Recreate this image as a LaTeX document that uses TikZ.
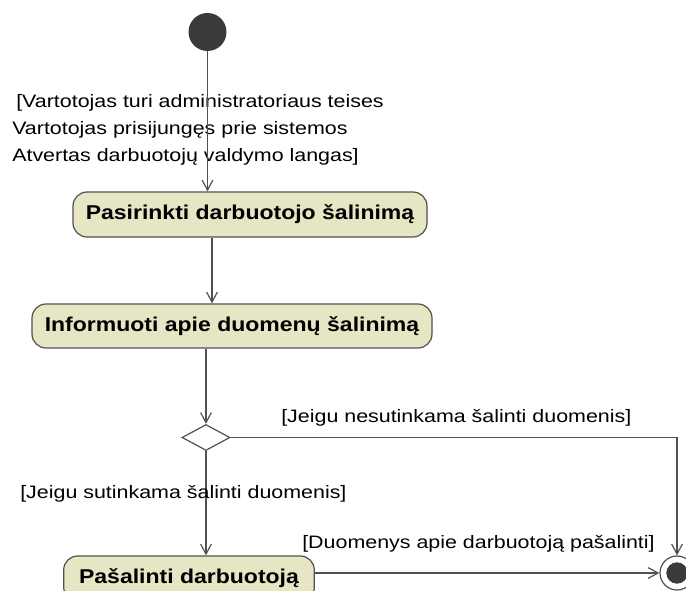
\documentclass[tikz,border=0pt]{standalone}
\usepackage{fontspec}
\setmainfont{Liberation Sans}
\newfontfamily\lblfont[FakeStretch=1.19]{Liberation Sans}
\newfontfamily\actfont[FakeStretch=1.15]{Liberation Sans Bold}
\usetikzlibrary{arrows.meta,shapes.geometric}
\definecolor{actfill}{RGB}{230,229,196}
\definecolor{linegr}{RGB}{80,80,80}
\definecolor{darkdot}{RGB}{58,58,58}
\tikzset{
  flow/.style={draw=linegr, line width=0.9pt, -{Straight Barb[length=7.5pt,width=8pt]}},
  act/.style={draw=linegr, line width=0.9pt, fill=actfill, rounded corners=10.5pt,
    inner sep=0pt, font=\actfont\fontsize{15pt}{18pt}\selectfont},
  lbl/.style={inner sep=0pt, font=\lblfont\fontsize{13.5pt}{16pt}\selectfont, text=black},
}
\begin{document}
\begin{tikzpicture}[x=0.75pt,y=-0.75pt]
\useasboundingbox (0,0) rectangle (686,591);
\clip (0,0) rectangle (686,591);
\fill[white] (0,0) rectangle (686,591);
% initial
\node[circle, fill=darkdot, minimum size=28.5pt, inner sep=0pt] (init) at (207.5,32) {};
% activities
\node[act, minimum width=265.5pt, minimum height=33.75pt] (a1) at (250,214.5) {Pasirinkti darbuotojo šalinimą};
\node[act, minimum width=300pt, minimum height=33pt] (a2) at (232,326) {Informuoti apie duomenų šalinimą};
\node[diamond, draw=linegr, line width=0.9pt, fill=white, minimum width=36pt, minimum height=19.5pt, inner sep=0pt] (dec) at (206,437.5) {};
\node[act, minimum width=188pt, minimum height=33.75pt] (a3) at (189,578.5) {Pašalinti darbuotoją};
% final
\node[circle, draw=linegr, line width=0.9pt, fill=white, minimum size=25.5pt, inner sep=0pt] (fin) at (677,573) {};
\node[circle, fill=darkdot, minimum size=16pt, inner sep=0pt] (finin) at (fin) {};
% guard text
\node[lbl, anchor=base west] (g1) at (16,108) {[Vartotojas turi administratoriaus teises};
\node[lbl, anchor=base west] (g2) at (12,135) {Vartotojas prisijungęs prie sistemos};
\node[lbl, anchor=base west] (g3) at (12,162) {Atvertas darbuotojų valdymo langas]};
\coordinate (c12) at (212,0);
% connectors
\draw[flow] (init) -- (init |- a1.north);
\draw[flow] (c12 |- a1.south) -- (c12 |- a2.north);
\draw[flow] (dec.north |- a2.south) -- (dec.north);
\draw[flow] (dec.east) -| (fin.north);
\draw[flow] (dec.south) -- (dec.south |- a3.north);
\draw[flow] (a3.east |- fin.west) -- (fin.west);
% labels
\node[lbl, anchor=base west] (l1) at (281,423) {[Jeigu nesutinkama šalinti duomenis]};
\node[lbl, anchor=base west] (l2) at (20,499) {[Jeigu sutinkama šalinti duomenis]};
\node[lbl, anchor=base west] (l3) at (302,549) {[Duomenys apie darbuotoją pašalinti]};
\end{tikzpicture}
\end{document}
